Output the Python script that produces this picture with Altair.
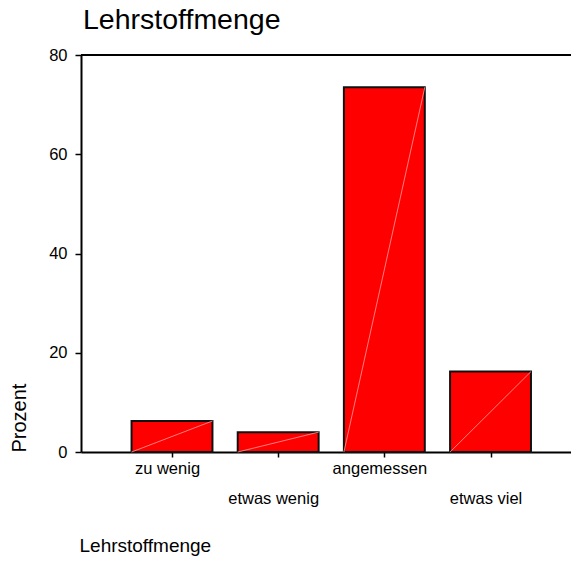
import altair as alt
import pandas as pd

# ---- data ----
chart_title = "Lehrstoffmenge"
categories = ["zu wenig", "etwas wenig", "angemessen", "etwas viel"]
percent = [6.25, 4.0, 73.5, 16.2]
y_ticks = [0, 20, 40, 60, 80]

FONT = "Liberation Sans"

df = pd.DataFrame({
    "cat": categories,
    "pct": percent,
    "pos": list(range(1, len(categories) + 1)),
})
df["zero"] = 0
top_df = pd.DataFrame({"top": [max(y_ticks)]})
title_df = pd.DataFrame({"t": [chart_title]})

half = 0.381
xscale = alt.Scale(domain=[0.1429, 4.758], nice=False, zero=False)
yscale = alt.Scale(domain=[min(y_ticks), max(y_ticks)], nice=False)

label_expr = "[" + ",".join("'" + c + "'" for c in categories) + "][datum.value - 1]"

x_axis = alt.Axis(
    values=list(range(1, len(categories) + 1)),
    labelExpr=label_expr,
    title="Lehrstoffmenge",
    titleX=-2, titleY=99.5, titleAlign="left", titleBaseline="alphabetic",
    titleFontSize=19, titleFontWeight="normal",
    labelFontSize=16.5, labelBaseline="top", labelOffset=-5,
    labelPadding={"condition": {"test": "datum.value % 2 == 0", "value": 33}, "value": 3},
    labelOverlap=False, labelFlush=False,
    tickSize=5, tickWidth=1.5, domainWidth=2, grid=False,
)
y_axis = alt.Axis(
    values=y_ticks,
    title="Prozent",
    titleAngle=-90, titleAlign="left", titleBaseline="middle",
    titleX=-62, titleY=397, titleFontSize=20, titleFontWeight="normal",
    labelFontSize=16.5, labelPadding=8, tickSize=6, tickWidth=1.5,
    domainWidth=2, grid=False,
)

base = alt.Chart(df).transform_calculate(
    lo=f"datum.pos - {half}", hi=f"datum.pos + {half}"
)

bars = base.mark_bar(color="#ff0000", stroke="#111111", strokeWidth=2).encode(
    x=alt.X("lo:Q", scale=xscale, axis=x_axis),
    x2="hi:Q",
    y=alt.Y("pct:Q", scale=yscale, axis=y_axis),
    y2="zero:Q",
)

diag = base.mark_rule(stroke="#ff9c9c", strokeWidth=1, opacity=0.8).encode(
    x=alt.X("lo:Q", title="Lehrstoffmenge"),
    x2="hi:Q",
    y=alt.Y("zero:Q", title="Prozent"),
    y2="pct:Q",
)

top_line = alt.Chart(top_df).mark_rule(color="black", strokeWidth=2).encode(
    y=alt.Y("top:Q", title="Prozent"),
)

title_text = alt.Chart(title_df).mark_text(
    align="left", baseline="alphabetic", fontSize=28.5, font=FONT, color="black"
).encode(
    text="t:N",
    x=alt.value(2),
    y=alt.value(-26),
)

chart = alt.layer(bars, diag, top_line, title_text).properties(
    width=490,
    height=397,
    autosize=alt.AutoSizeParams(type="none"),
    padding={"left": 73, "top": 47, "right": 0, "bottom": 104},
    background="white",
).configure_view(stroke=None).configure_axis(
    labelFont=FONT, titleFont=FONT, labelColor="black", titleColor="black",
    domainColor="black", tickColor="black",
)

chart.save("out.html", embed_options={"renderer": "svg", "actions": False})
